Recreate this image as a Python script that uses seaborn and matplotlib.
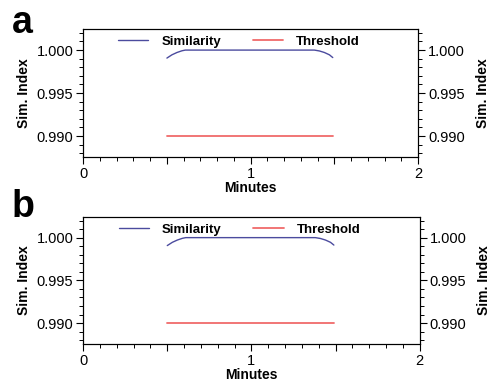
import numpy as np
import pandas as pd
import matplotlib.pyplot as plt
import seaborn as sns
from matplotlib.ticker import MultipleLocator, FuncFormatter
from matplotlib.lines import Line2D

# data
sim_minutes = [0.50, 0.53, 0.56, 0.59, 0.61, 1.38, 1.41, 1.44, 1.47, 1.49]
sim_a = [0.99907, 0.99945, 0.99972, 0.99992, 1.0000, 1.0000, 0.99990, 0.99972, 0.99945, 0.99913]
sim_b = [0.99907, 0.99945, 0.99972, 0.99992, 1.0000, 1.0000, 0.99990, 0.99972, 0.99945, 0.99913]
thr_minutes = [0.50, 1.49]
thr_value = [0.990, 0.990]
panels = ["a", "b"]

sns.set_theme(style="ticks")
plt.rcParams["font.family"] = ["Liberation Sans", "DejaVu Sans"]
plt.rcParams["text.color"] = "black"
plt.rcParams["axes.labelcolor"] = "black"

sim_color = "#4b4b9e"
thr_color = "#f06a6a"

fig = plt.figure(figsize=(4.92, 3.83), dpi=100)
rects = [[0.169, 0.590, 0.681, 0.334], [0.169, 0.102, 0.684, 0.332]]
letter_y = [0.914, 0.433]

for letter, rect, sim, ly in zip(panels, rects, [sim_a, sim_b], letter_y):
    ax = fig.add_axes(rect)
    df_sim = pd.DataFrame({"Minutes": sim_minutes, "Sim": sim})
    df_thr = pd.DataFrame({"Minutes": thr_minutes, "Sim": thr_value})
    sns.lineplot(data=df_sim, x="Minutes", y="Sim", color=sim_color, lw=1.0, ax=ax)
    sns.lineplot(data=df_thr, x="Minutes", y="Sim", color=thr_color, lw=1.3, ax=ax)
    ax.set_xlim(0, 2)
    ax.set_ylim(0.98756, 1.00244)

    ax.xaxis.set_major_locator(MultipleLocator(0.5))
    ax.xaxis.set_minor_locator(MultipleLocator(0.1))
    ax.xaxis.set_major_formatter(FuncFormatter(lambda v, p: f"{v:.0f}" if abs(v - round(v)) < 1e-6 else ""))
    ax.yaxis.set_major_locator(MultipleLocator(0.005))
    ax.yaxis.set_minor_locator(MultipleLocator(0.001))
    ax.yaxis.set_major_formatter(FuncFormatter(lambda v, p: f"{v:.3f}"))

    for s in ax.spines.values():
        s.set_linewidth(0.8)
        s.set_color("black")
    ax.tick_params(which="major", length=5, width=0.8, labelsize=10.5, colors="black", pad=2)
    ax.tick_params(which="minor", length=3, width=0.7, colors="black")
    ax.set_xlabel("Minutes", fontweight="bold", fontsize=10, labelpad=0)
    ax.set_ylabel("Sim. Index", fontweight="bold", fontsize=10, labelpad=4)

    axr = ax.twinx()
    axr.set_ylim(ax.get_ylim())
    axr.yaxis.set_major_locator(MultipleLocator(0.005))
    axr.yaxis.set_minor_locator(MultipleLocator(0.001))
    axr.yaxis.set_major_formatter(FuncFormatter(lambda v, p: f"{v:.3f}"))
    axr.tick_params(which="major", length=5, width=0.8, labelsize=10.5, colors="black", pad=2)
    axr.tick_params(which="minor", length=3, width=0.7, colors="black")
    axr.set_ylabel("Sim. Index", fontweight="bold", fontsize=10, labelpad=8)
    for s in axr.spines.values():
        s.set_linewidth(0.8)
        s.set_color("black")

    handles = [Line2D([], [], color=sim_color, lw=1.0), Line2D([], [], color=thr_color, lw=1.3)]
    leg = ax.legend(handles, ["Similarity", "Threshold"], loc="upper center", ncol=2,
                    frameon=False, prop={"weight": "bold", "size": 9.5},
                    bbox_to_anchor=(0.465, 1.04), handlelength=2.3, columnspacing=2.4,
                    handletextpad=1.0)

    fig.text(0.024, ly, letter, fontsize=27, fontweight="bold",
             va="baseline", color="black")

fig.savefig("out.png", dpi=100)
